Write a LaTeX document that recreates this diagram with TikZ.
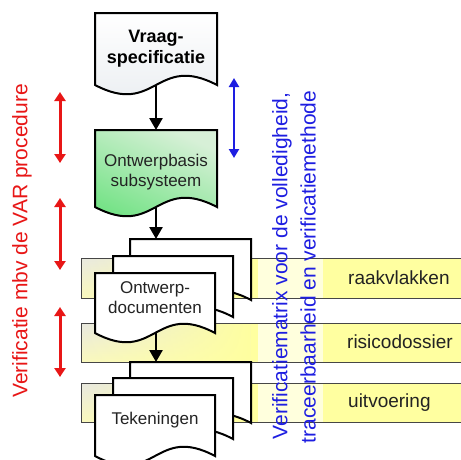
\documentclass[tikz,border=0pt]{standalone}
\usepackage{fontspec}
\setmainfont{Liberation Sans}
\usetikzlibrary{arrows.meta,fadings}

\definecolor{bandyellow}{RGB}{255,255,160}
\definecolor{bandgrey}{RGB}{233,233,225}
\definecolor{bandpale}{RGB}{250,249,190}
\definecolor{bandline}{RGB}{70,70,70}
\definecolor{greentop}{RGB}{215,240,215}
\definecolor{greenbot}{RGB}{105,225,125}
\definecolor{specbot}{RGB}{232,236,240}
\definecolor{redarrow}{RGB}{232,22,22}
\definecolor{bluearrow}{RGB}{30,30,225}
\definecolor{boxtext}{RGB}{35,35,35}

% document outline: left, top, right, bottom of the side edges
\newcommand{\docshape}[5]{%
  \draw[#1] (#2,#3) -- (#4,#3) -- (#4,#5)
    .. controls ({(#2+#4)/2},{#5-32}) and ({(#2+#4)/2},{#5+32}) .. (#2,#5) -- cycle;}

% one horizontal band: top, bottom
\newcommand{\bandfill}[2]{%
  \fill[bandyellow] (81,#1) rectangle (461,#2);
  \shade[top color=bandgrey, bottom color=bandpale] (81,#1) rectangle (250,#2);
  \fill[bandyellow, path fading=west] (81,#1) rectangle (250,#2);}
\newcommand{\bandedge}[2]{%
  \draw[bandline, line width=1pt] (461,#1) -- (81,#1) -- (81,#2) -- (461,#2);}

\tikzset{
  page/.style={draw=black, line width=2pt, fill=white, line join=miter},
  flow/.style={-{Triangle[width=13pt,length=12pt]}, line width=2.5pt, black},
  redtwin/.style={{Triangle[width=11pt,length=9pt]}-{Triangle[width=11pt,length=9pt]},
    line width=3pt, redarrow},
  bluetwin/.style={{Triangle[width=10pt,length=9pt]}-{Triangle[width=10pt,length=9pt]},
    line width=2.5pt, bluearrow},
  boxlabel/.style={font=\fontsize{17}{20}\selectfont, text=boxtext, align=center, inner sep=0pt},
  bandlabel/.style={font=\fontsize{19}{22}\selectfont, text=boxtext, anchor=west, inner sep=0pt},
  sidetext/.style={font=\fontsize{21}{25}\selectfont, rotate=90, inner sep=0pt},
}

\begin{document}
\begin{tikzpicture}[x=1pt, y=-1pt]
\useasboundingbox (0,0) rectangle (461,459);
\fill[white] (0,0) rectangle (461,459);

% bands behind the document stacks
\bandfill{258}{298}
\bandfill{323}{362}
\bandfill{383}{422}
% light backing of the vertical caption
\fill[white, opacity=0.65] (258,240) rectangle (323,440);
\bandedge{258}{298}
\bandedge{323}{362}
\bandedge{383}{422}

% requirements specification
\docshape{page, top color=white, bottom color=specbot}{95}{13}{217}{85}
\node[boxlabel, font=\fontsize{18}{21}\selectfont\bfseries, text=black] (vraag) at (156,49)
  {Vraag-\\specificatie};
\coordinate (vraag-b) at (156,85);

% design basis
\docshape{page, top color=greentop, bottom color=greenbot, shading angle=-25}{95}{130}{217}{207}
\node[boxlabel] (basis) at (156,172) {Ontwerpbasis\\subsysteem};
\coordinate (basis-t) at (156,130);
\coordinate (basis-b) at (156,207);

% design documents stack
\docshape{page}{130}{239}{251}{300}
\docshape{page}{113}{256}{233}{317}
\docshape{page}{95}{273}{215}{333}
\node[boxlabel] (docs) at (155,298) {Ontwerp-\\documenten};
\coordinate (docs-t) at (156,239);
\coordinate (docs-b) at (156,333);

% drawings stack
\docshape{page}{130}{362}{251}{423}
\docshape{page}{113}{378}{233}{439}
\docshape{page}{95}{395}{215}{456}
\node[boxlabel] (tek) at (155,420) {Tekeningen};
\coordinate (tek-t) at (156,362);

% flow
\draw[flow] (vraag-b) -- (basis-t);
\draw[flow] (basis-b) -- (docs-t);
\draw[flow] (docs-b) -- (tek-t);

% band labels
\node[bandlabel] (raak) at (348,278) {raakvlakken};
\node[bandlabel] (risico) at (347,342) {risicodossier};
\node[bandlabel] (uitv) at (348,403) {uitvoering};

% verification along the VAR procedure
\node[sidetext, text=redarrow] (var) at (22,241) {Verificatie mbv de VAR procedure};
\coordinate (r1a) at (60,92);  \coordinate (r1b) at (60,163);
\coordinate (r2a) at (60,198); \coordinate (r2b) at (60,270);
\coordinate (r3a) at (60,307); \coordinate (r3b) at (60,377);
\draw[redtwin] (r1a) -- (r1b);
\draw[redtwin] (r2a) -- (r2b);
\draw[redtwin] (r3a) -- (r3b);

% verification matrix
\coordinate (b1a) at (234,78); \coordinate (b1b) at (234,158);
\draw[bluetwin] (b1a) -- (b1b);
\node[sidetext, text=bluearrow] (vm1) at (282,266) {Verificatiematrix voor de volledigheid,};
\node[sidetext, text=bluearrow] (vm2) at (308,267) {traceerbaarheid en verificatiemethode};
\end{tikzpicture}
\end{document}
